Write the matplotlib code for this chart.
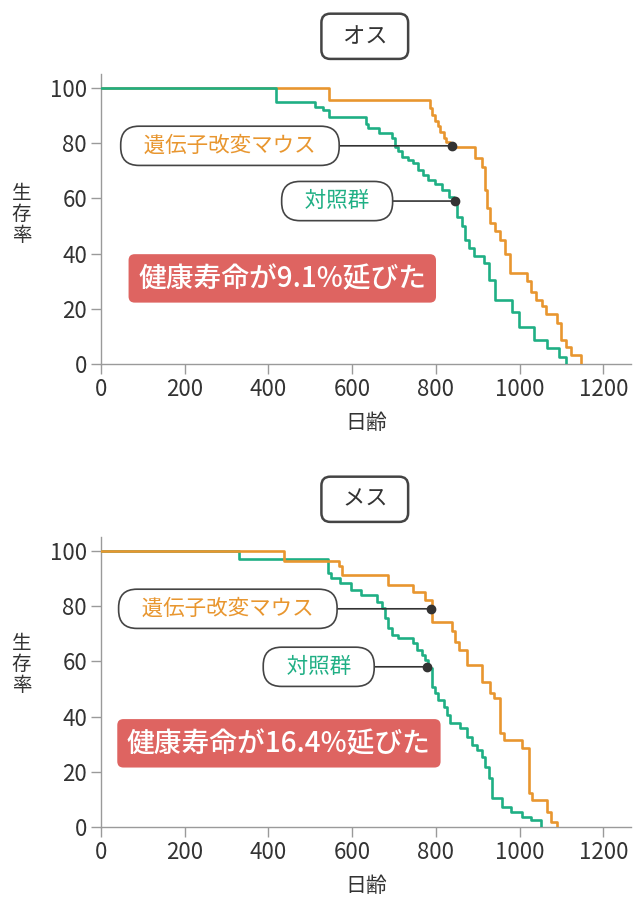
import matplotlib
matplotlib.use("Agg")
import matplotlib.pyplot as plt

plt.rcParams['font.family'] = ['Noto Sans CJK JP', 'DejaVu Sans']

# =========================
# データ (日齢, 生存率) — 各ステップの変化点
# =========================
# オス 遺伝子改変マウス
m_gm_t = [0, 545, 785, 790, 797, 805, 810, 818, 825, 833, 893, 910, 916, 922, 930,
          942, 954, 966, 977, 1018, 1026, 1038, 1054, 1062, 1090, 1098, 1110, 1122, 1146]
m_gm_s = [100, 95.7, 92.6, 90, 88, 86, 84, 82, 80.5, 78.7, 74.6, 71.5, 63, 56.5, 51,
          48, 45, 40, 33, 30, 26, 23, 21, 18, 15, 8.7, 6.3, 3.3, 0]
# オス 対照群
m_ct_t = [0, 418, 510, 530, 545, 634, 638, 665, 694, 701, 710, 718, 734, 746, 758,
          770, 782, 797, 814, 830, 842, 850, 862, 870, 878, 890, 914, 926, 942, 982,
          998, 1034, 1066, 1094, 1110]
m_ct_s = [100, 95, 93, 92, 89.6, 87, 85.4, 83.6, 81.8, 78.7, 77, 75, 74, 72.7, 70.3,
          68.5, 66.7, 65, 63, 60.5, 58.8, 53.4, 49.8, 45, 42, 39, 36.5, 30.4, 23.2, 19,
          13.5, 8.7, 5.7, 2.7, 0]
# メス 遺伝子改変マウス
f_gm_t = [0, 437, 568, 575, 686, 746, 774, 790, 838, 846, 854, 874, 910, 930, 938,
          954, 962, 1006, 1022, 1030, 1066, 1074, 1090]
f_gm_s = [100, 96.4, 94.5, 91.3, 87.7, 85.2, 82.2, 74.4, 70.8, 67.1, 64.1, 58.7, 52.6, 48.4, 46.6,
          33.9, 31.5, 28.5, 12.2, 9.8, 5.5, 1.9, 0]
# メス 対照群
f_ct_t = [0, 329, 542, 550, 570, 598, 622, 658, 670, 678, 686, 694, 710, 746, 754,
          766, 774, 782, 790, 798, 806, 818, 826, 834, 858, 874, 886, 898, 910, 918,
          926, 934, 958, 978, 1006, 1026, 1050]
f_ct_s = [100, 97, 91.9, 90.1, 88.3, 85.9, 84, 81.6, 79.2, 75.6, 72, 69.6, 68.4, 66.6, 64,
          62.3, 60.5, 57.5, 50.8, 48.4, 46, 43.6, 40.6, 37.6, 35.8, 32.7, 29.7, 27.9, 25.5, 21.9,
          17.6, 10.4, 7.4, 5.6, 3.7, 2.5, 0]

paneles = [
    dict(titulo="オス", gm=(m_gm_t, m_gm_s), ct=(m_ct_t, m_ct_s), gm_arriba=False,
         gm_punto=(838, 79), ct_punto=(845, 59), gm_caja=(308, 79), ct_caja=(564, 59),
         texto="健康寿命が9.1%延びた", caja_roja=(433, 31), ylab_y=0.515),
    dict(titulo="メス", gm=(f_gm_t, f_gm_s), ct=(f_ct_t, f_ct_s), gm_arriba=True,
         gm_punto=(788, 79), ct_punto=(779, 58), gm_caja=(303, 79), ct_caja=(520, 58),
         texto="健康寿命が16.4%延びた", caja_roja=(425, 30.3), ylab_y=0.56),
]

naranja = '#E8962F'
verde = '#1FAF84'
rojo = '#DE6461'
gris = '#9A9A9A'
oscuro = '#333333'

fig = plt.figure(figsize=(6.39, 9.08), dpi=100)
posiciones = [[0.158, 0.5991, 0.829, 0.3194], [0.158, 0.0892, 0.829, 0.3194]]

for pos, p in zip(posiciones, paneles):
    ax = fig.add_axes(pos)
    z_gm = 4 if p['gm_arriba'] else 3
    ax.step(p['ct'][0], p['ct'][1], where='post', color=verde, lw=1.9, zorder=7 - z_gm)
    ax.step(p['gm'][0], p['gm'][1], where='post', color=naranja, lw=1.9, zorder=z_gm)

    ax.set_xlim(0, 1265)
    ax.set_ylim(0, 105)
    ax.set_xticks([0, 200, 400, 600, 800, 1000, 1200])
    ax.set_yticks([0, 20, 40, 60, 80, 100])
    for s in ['top', 'right']:
        ax.spines[s].set_visible(False)
    for s in ['left', 'bottom']:
        ax.spines[s].set_color(gris)
        ax.spines[s].set_linewidth(1.0)
    ax.tick_params(colors=gris, length=7, width=1.0, labelsize=16, labelcolor=oscuro, pad=3)

    ax.set_xlabel("日齢", fontsize=15, color=oscuro)
    ax.xaxis.set_label_coords(0.5, -0.165)
    ax.text(-0.15, p['ylab_y'], "生\n存\n率", transform=ax.transAxes, ha='center', va='center',
            fontsize=14, color=oscuro, linespacing=1.0)

    # título en caja
    ax.text(0.498, 1.13, "  " + p['titulo'] + "  ", transform=ax.transAxes, ha='center', va='center',
            fontsize=16, color=oscuro,
            bbox=dict(boxstyle='round,pad=0.5,rounding_size=0.4', fc='white', ec='#444444', lw=1.8))

    # etiquetas de series
    ax.annotate("   遺伝子改変マウス   ", xy=p['gm_punto'], xytext=p['gm_caja'],
                ha='center', va='center', fontsize=15.5, color=naranja,
                bbox=dict(boxstyle='round,pad=0.4,rounding_size=0.85', fc='white', ec='#444444', lw=1.2),
                arrowprops=dict(arrowstyle='-', color=oscuro, lw=1.2, shrinkA=0, shrinkB=0), zorder=5)
    ax.annotate("   対照群   ", xy=p['ct_punto'], xytext=p['ct_caja'],
                ha='center', va='center', fontsize=15.5, color=verde,
                bbox=dict(boxstyle='round,pad=0.4,rounding_size=0.85', fc='white', ec='#444444', lw=1.2),
                arrowprops=dict(arrowstyle='-', color=oscuro, lw=1.2, shrinkA=0, shrinkB=0), zorder=5)
    ax.plot(*p['gm_punto'], 'o', color=oscuro, ms=6, zorder=6)
    ax.plot(*p['ct_punto'], 'o', color=oscuro, ms=6, zorder=6)

    ax.text(*p['caja_roja'], p['texto'], ha='center', va='center', fontsize=20, color='white',
            fontweight='medium',
            bbox=dict(boxstyle='round,pad=0.35,rounding_size=0.22', fc=rojo, ec='none'), zorder=5)

plt.savefig("out.png", dpi=100)
plt.close()
